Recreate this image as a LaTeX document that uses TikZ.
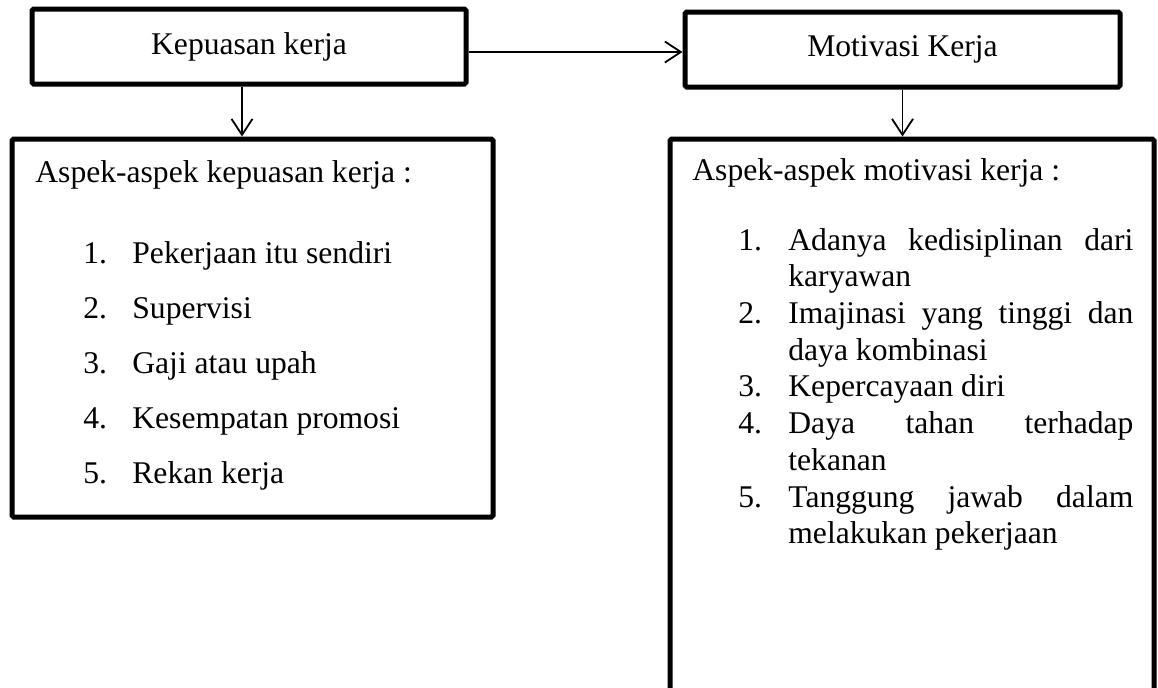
\documentclass[tikz,border=0pt]{standalone}
\usepackage{fontspec}
\setmainfont{Liberation Serif}
\usetikzlibrary{arrows.meta}

\begin{document}
\begin{tikzpicture}
  [x=0.5pt, y=-0.5pt,
   every node/.style={inner sep=0pt, font=\fontsize{15.8}{19}\selectfont},
   kotak/.style={draw, line width=2.5pt, rounded corners=0.8pt},
   panah/.style={line width=0.9pt, -{Straight Barb[length=8pt,width=10.5pt,line width=0.9pt]}},
   teks/.style={anchor=base west}]
  \useasboundingbox (0,0) rectangle (1158,687);
  % kotak atas
  \node [kotak, minimum width=217pt, minimum height=37.5pt] (kepuasan) at (249,46.5) {Kepuasan kerja};
  \node [kotak, minimum width=217.5pt, minimum height=37.5pt] (motivasi) at (902.5,49.5) {Motivasi Kerja};
  % kotak bawah
  \node [kotak, minimum width=240.5pt, minimum height=189pt] (aspekkepuasan) at (252.5,328) {};
  \node [kotak, minimum width=242pt, minimum height=290.5pt] (aspekmotivasi) at (912,429.5) {};
  % panah
  \draw [panah] ([yshift=-2.75pt]kepuasan.east) -- ([yshift=-2.75pt]kepuasan.east -| motivasi.west);
  \draw [panah] ([xshift=-3.5pt]kepuasan.south) -- ([xshift=-3.5pt]kepuasan.south |- aspekkepuasan.north);
  \draw [panah] (motivasi.south) -- (motivasi.south |- aspekmotivasi.north);
  % isi kiri
  \node [teks] (judulkepuasan) at (35,182) {Aspek-aspek kepuasan kerja :};
  \node [teks] (nokiri1) at (83,263) {1.};
  \node [teks] (kiri1) at (132,263) {Pekerjaan itu sendiri};
  \node [teks] (nokiri2) at (83,318) {2.};
  \node [teks] (kiri2) at (132,318) {Supervisi};
  \node [teks] (nokiri3) at (83,373) {3.};
  \node [teks] (kiri3) at (132,373) {Gaji atau upah};
  \node [teks] (nokiri4) at (83,428) {4.};
  \node [teks] (kiri4) at (132,428) {Kesempatan promosi};
  \node [teks] (nokiri5) at (83,483) {5.};
  \node [teks] (kiri5) at (132,483) {Rekan kerja};
  % isi kanan
  \node [teks] (judulmotivasi) at (692,180) {Aspek-aspek motivasi kerja :};
  \node [teks] (nokanan1) at (738,250) {1.};
  \node [teks] (kanan1) at (788,250) {\makebox[172.5pt][s]{Adanya kedisiplinan dari}};
  \node [teks] (kanan1b) at (788,286.7) {karyawan};
  \node [teks] (nokanan2) at (738,323.4) {2.};
  \node [teks] (kanan2) at (788,323.4) {\makebox[172.5pt][s]{Imajinasi yang tinggi dan}};
  \node [teks] (kanan2b) at (788,360) {daya kombinasi};
  \node [teks] (nokanan3) at (738,396.8) {3.};
  \node [teks] (kanan3) at (788,396.8) {Kepercayaan diri};
  \node [teks] (nokanan4) at (738,433.5) {4.};
  \node [teks] (kanan4) at (788,433.5) {\makebox[172.5pt][s]{Daya tahan terhadap}};
  \node [teks] (kanan4b) at (788,470) {tekanan};
  \node [teks] (nokanan5) at (738,507) {5.};
  \node [teks] (kanan5) at (788,507) {\makebox[172.5pt][s]{Tanggung jawab dalam}};
  \node [teks] (kanan5b) at (788,543.7) {melakukan pekerjaan};
\end{tikzpicture}
\end{document}
